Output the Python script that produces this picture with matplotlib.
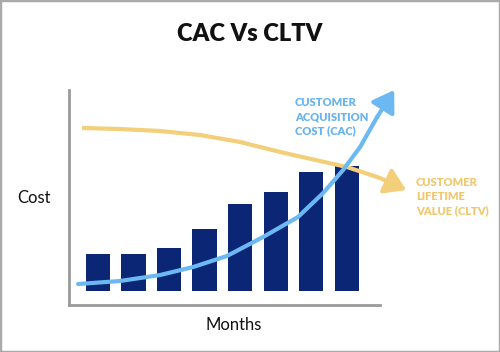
import matplotlib
matplotlib.use("Agg")
import matplotlib.pyplot as plt
from matplotlib.patches import FancyArrowPatch, Rectangle

# bar heights per month
months = [0, 1, 2, 3, 4, 5, 6, 7]
bar_vals = [3.7, 3.7, 4.3, 6.2, 8.7, 9.9, 11.9, 12.5]

# CAC curve (rising)
cac_x = [-0.56, 0.62, 1.75, 2.68, 3.63, 4.65, 5.63, 6.34, 6.90, 7.38, 7.86, 8.34]
cac_y = [0.7, 1.0, 1.6, 2.4, 3.5, 5.4, 7.4, 9.8, 12.1, 14.4, 17.4, 20.1]

# CLTV curve (falling)
cltv_x = [-0.45, 0.62, 1.75, 2.87, 4.0, 5.13, 6.25, 7.01, 7.94, 8.68]
cltv_y = [16.3, 16.2, 16.0, 15.6, 14.9, 13.9, 13.0, 12.4, 11.3, 10.1]

navy = "#0b2675"
blue = "#6cb8f2"
gold = "#f3cf7a"
grey = "#9a9a9a"

plt.rcParams["font.family"] = ["Lato", "DejaVu Sans"]

fig = plt.figure(figsize=(5, 3.52), dpi=100)
W, H = 500, 352
ax = fig.add_axes([69 / W, 1 - 305 / H, (380 - 69) / W, (305 - 90) / H])

ax.bar(months, bar_vals, width=0.68, color=navy, zorder=2)
ax.set_xlim(-0.817, 7.94)
ax.set_ylim(-1.4, 20.1)

# CLTV line + arrow
ax.plot(cltv_x[:-1], cltv_y[:-1], color=gold, lw=3, solid_capstyle="butt", zorder=3, clip_on=False)
ax.add_patch(FancyArrowPatch((cltv_x[-2], cltv_y[-2]), (cltv_x[-1], cltv_y[-1]),
                             arrowstyle="-|>,head_length=0.7,head_width=0.45", mutation_scale=18,
                             color=gold, lw=3, zorder=3, clip_on=False, shrinkA=0, shrinkB=0))

# CAC line + arrow
ax.plot(cac_x[:-1], cac_y[:-1], color=blue, lw=3, solid_capstyle="round", zorder=4, clip_on=False)
ax.add_patch(FancyArrowPatch((cac_x[-2], cac_y[-2]), (cac_x[-1], cac_y[-1]),
                             arrowstyle="-|>,head_length=0.7,head_width=0.45", mutation_scale=18,
                             color=blue, lw=3, zorder=4, clip_on=False, shrinkA=0, shrinkB=0))

for s in ["top", "right"]:
    ax.spines[s].set_visible(False)
for s in ["left", "bottom"]:
    ax.spines[s].set_color(grey)
    ax.spines[s].set_linewidth(2)
ax.set_xticks([])
ax.set_yticks([])

fig.text(250 / W, 1 - 34 / H, "CAC Vs CLTV", ha="center", va="center",
         fontsize=17, fontweight="heavy", color="#111111")
fig.text(34 / W, 1 - 198 / H, "Cost", ha="center", va="center", fontsize=12, color="#111111")
fig.text(234 / W, 1 - 325 / H, "Months", ha="center", va="center", fontsize=12, color="#111111")

fig.text(295 / W, 1 - 97 / H, "CUSTOMER\nACQUISITION\nCOST (CAC)", ha="left", va="top",
         fontsize=8, fontweight="heavy", color="#69b3ee", linespacing=1.35)
fig.text(416 / W, 1 - 177 / H, "CUSTOMER\nLIFETIME\nVALUE (CLTV)", ha="left", va="top",
         fontsize=8, fontweight="heavy", color="#f0c86e", linespacing=1.35)

# outer frame
fig.patches.append(Rectangle((0, 0), 1, 1, transform=fig.transFigure, fill=False,
                             edgecolor="#aaaaaa", lw=2.5))

fig.savefig("out.png", dpi=100)
